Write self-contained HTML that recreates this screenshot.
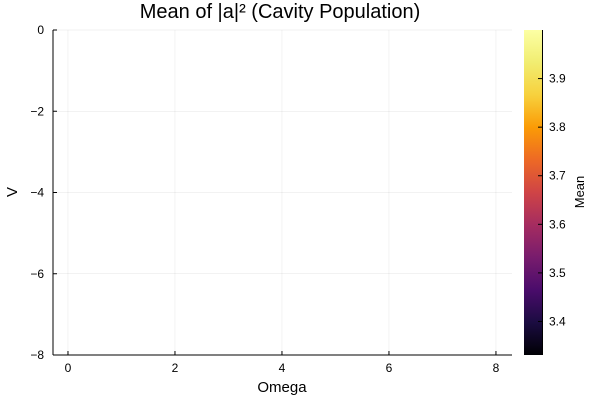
<!DOCTYPE html>
<html><head><meta charset="utf-8"><style>
body{margin:0;background:#fff}
svg{display:block;font-family:"Liberation Sans","DejaVu Sans",sans-serif}
</style></head><body>
<svg id="c" width="600" height="400" viewBox="0 0 600 400">
<defs><linearGradient id="inf" x1="0" y1="1" x2="0" y2="0">
<stop offset="0" stop-color="#000004"/><stop offset="0.1" stop-color="#1b0c41"/>
<stop offset="0.2" stop-color="#4a0c6b"/><stop offset="0.3" stop-color="#781c6d"/>
<stop offset="0.4" stop-color="#a52c60"/><stop offset="0.5" stop-color="#cf4446"/>
<stop offset="0.6" stop-color="#ed6925"/><stop offset="0.7" stop-color="#fb9b06"/>
<stop offset="0.8" stop-color="#f7d13d"/><stop offset="0.9" stop-color="#f1ed71"/>
<stop offset="1" stop-color="#fcffa4"/></linearGradient></defs>
<text x="280" y="18" font-size="20" text-anchor="middle">Mean of |a|² (Cavity Population)</text>
<g id="grid"></g><g id="axes"></g>
<rect x="524" y="30" width="18" height="325" fill="url(#inf)"/>
<line x1="542.5" y1="30" x2="542.5" y2="355" stroke="#000" stroke-width="1"/>
<g id="cb"></g>
<text x="282" y="392" font-size="15" text-anchor="middle">Omega</text>
<text x="17" y="192" font-size="15" text-anchor="middle" transform="rotate(-90 17 192)">V</text>
<text x="584" y="192" font-size="13" text-anchor="middle" transform="rotate(-90 584 192)">Mean</text>
</svg>
<script>
const xTicks=[0,2,4,6,8];
const yTicks=[0,-2,-4,-6,-8];
const cbTicks=[3.4,3.5,3.6,3.7,3.8,3.9];
const xDomain=[-0.28,8.3], yDomain=[-8,0], cbDomain=[3.331,4.0];
const L=53,R=512,T=30,B=355;
const sx=v=>L+(v-xDomain[0])/(xDomain[1]-xDomain[0])*(R-L);
const sy=v=>B-(v-yDomain[0])/(yDomain[1]-yDomain[0])*(B-T);
const sc=v=>B-(v-cbDomain[0])/(cbDomain[1]-cbDomain[0])*(B-T);
const NS="http://www.w3.org/2000/svg";
function mk(p,t,a){const e=document.createElementNS(NS,t);for(const k in a)e.setAttribute(k,a[k]);document.getElementById(p).appendChild(e);return e;}
const fmt=v=>(v<0?"\u2212":"")+Math.abs(v);
xTicks.forEach(v=>{const x=sx(v);
let g=mk('grid','line',{x1:x,y1:T,x2:x,y2:B,stroke:'#000','stroke-opacity':0.1,'stroke-width':0.5});


let t=mk('axes','line',{x1:x,y1:B,x2:x,y2:B-4,stroke:'#000'});


let l=mk('axes','text',{x:x,y:B+17,'font-size':12,'text-anchor':'middle'});l.textContent=fmt(v);

});
yTicks.forEach(v=>{const y=sy(v);
let g=mk('grid','line',{x1:L,y1:y,x2:R,y2:y,stroke:'#000','stroke-opacity':0.1,'stroke-width':0.5});


let t=mk('axes','line',{x1:L,y1:y,x2:L+4,y2:y,stroke:'#000'});


let l=mk('axes','text',{x:L-9,y:y+4,'font-size':12,'text-anchor':'end'});l.textContent=fmt(v);

});
let ax=mk('axes','line',{x1:L,y1:B,x2:R,y2:B,stroke:'#000'});


let ay=mk('axes','line',{x1:L,y1:T,x2:L,y2:B,stroke:'#000'});


cbTicks.forEach(v=>{const y=sc(v);
let t=mk('cb','line',{x1:542,y1:y,x2:538,y2:y,stroke:'#000'});


let l=mk('cb','text',{x:549,y:y+4,'font-size':12});l.textContent=v.toFixed(1);

});
</script>
</body></html>
